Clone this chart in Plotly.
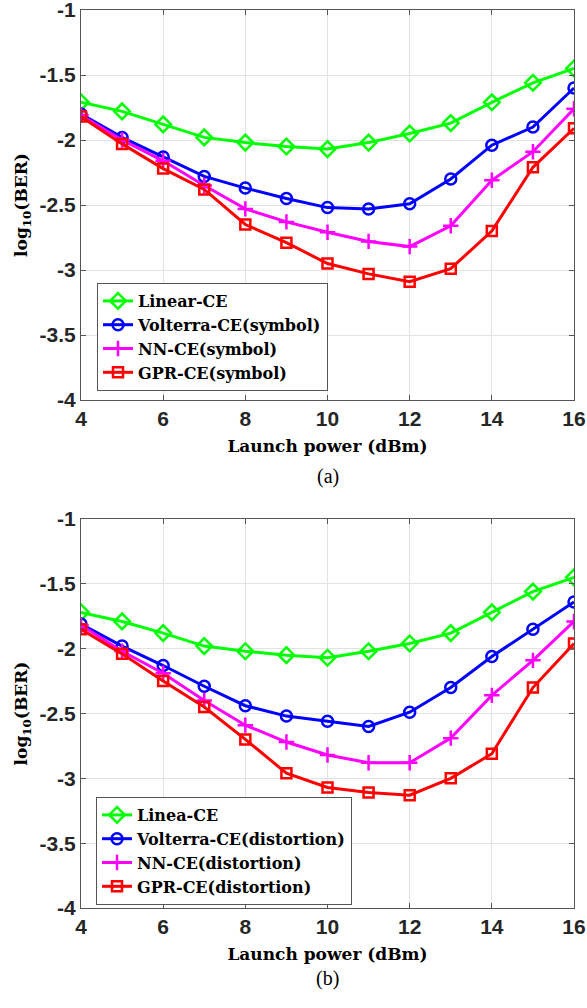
import plotly.graph_objects as go
from plotly.subplots import make_subplots

power = [4, 5, 6, 7, 8, 9, 10, 11, 12, 13, 14, 15, 16]

# (a) symbol
a_linear = [-1.71, -1.78, -1.88, -1.98, -2.02, -2.05, -2.07, -2.02, -1.95, -1.87, -1.71, -1.56, -1.45]
a_volterra = [-1.80, -1.98, -2.13, -2.28, -2.37, -2.45, -2.52, -2.53, -2.49, -2.30, -2.04, -1.90, -1.60]
a_nn = [-1.81, -2.00, -2.16, -2.35, -2.53, -2.63, -2.71, -2.78, -2.82, -2.66, -2.31, -2.09, -1.76]
a_gpr = [-1.82, -2.03, -2.22, -2.38, -2.65, -2.79, -2.95, -3.03, -3.09, -2.99, -2.70, -2.21, -1.91]

# (b) distortion
b_linear = [-1.72, -1.79, -1.88, -1.98, -2.02, -2.05, -2.07, -2.02, -1.96, -1.88, -1.72, -1.56, -1.45]
b_volterra = [-1.81, -1.98, -2.13, -2.29, -2.44, -2.52, -2.56, -2.60, -2.49, -2.30, -2.06, -1.85, -1.64]
b_nn = [-1.82, -2.02, -2.19, -2.40, -2.59, -2.72, -2.82, -2.88, -2.88, -2.69, -2.36, -2.09, -1.79]
b_gpr = [-1.85, -2.04, -2.25, -2.45, -2.70, -2.96, -3.07, -3.11, -3.13, -3.00, -2.81, -2.30, -1.96]

names_a = ["Linear-CE", "Volterra-CE(symbol)", "NN-CE(symbol)", "GPR-CE(symbol)"]
names_b = ["Linea-CE", "Volterra-CE(distortion)", "NN-CE(distortion)", "GPR-CE(distortion)"]
colors = ["#00FF00", "#0000FF", "#FF00FF", "#FF0000"]
symbols = ["diamond-open", "circle-open", "cross-thin-open", "square-open"]
sizes = [12, 11, 11, 10]

W, H = 587, 1008
L, R, T, B = 81, 13, 10, 100
ph = H - T - B

def py(px):
    return (H - B - px) / ph

def pxx(px):
    return (px - L) / (W - L - R)

fig = make_subplots(rows=2, cols=1)

serif = "DejaVu Serif"
for row, series, names, leg in [(1, [a_linear, a_volterra, a_nn, a_gpr], names_a, "legend"),
                                (2, [b_linear, b_volterra, b_nn, b_gpr], names_b, "legend2")]:
    for i, ys in enumerate(series):
        fig.add_trace(go.Scatter(
            x=power, y=ys, mode="lines+markers", name=names[i], legend=leg,
            line=dict(color=colors[i], width=3),
            marker=dict(symbol=symbols[i], size=sizes[i], color=colors[i],
                        line=dict(color=colors[i], width=2.5)),
        ), row=row, col=1)

axis_common = dict(
    showline=True, linecolor="#555555", linewidth=1, mirror="ticks",
    ticks="inside", ticklen=5, tickcolor="#555555",
    showgrid=True, gridcolor="#E3E3E3", gridwidth=1, zeroline=False,
    automargin=False, ticklabeloverflow="allow",
    tickfont=dict(family="Liberation Sans", size=21, color="#262626", weight="bold"),
)

for r, dom in [(1, [py(400), py(10)]), (2, [0.0, py(519)])]:
    fig.update_xaxes(range=[4, 16], tickvals=[4, 6, 8, 10, 12, 14, 16], row=r, col=1,
                     title=dict(text="Launch power (dBm)", standoff=10,
                                font=dict(family=serif, size=17, color="#000000", weight="bold")),
                     **axis_common)
    fig.update_yaxes(range=[-4, -1], tickvals=[-4, -3.5, -3, -2.5, -2, -1.5, -1],
                     ticktext=["-4", "-3.5", "-3", "-2.5", "-2", "-1.5", "-1"],
                     domain=dom, row=r, col=1,
                     title=dict(text="log<sub>10</sub>(BER)", standoff=7,
                                font=dict(family=serif, size=17, color="#000000", weight="bold")),
                     **axis_common)

legend_style = dict(
    xanchor="left", yanchor="top", bgcolor="white", bordercolor="#555555", borderwidth=1,
    font=dict(family=serif, size=16, color="#000000", weight="bold"),
    tracegroupgap=0, itemwidth=30,
)
fig.update_layout(
    width=W, height=H,
    margin=dict(l=L, r=R, t=T, b=B, autoexpand=False),
    paper_bgcolor="white", plot_bgcolor="white",
    legend=dict(x=pxx(97), y=py(283), **legend_style),
    legend2=dict(x=pxx(96), y=py(797), **legend_style),
    annotations=[
        dict(text="(a)", x=0.5, y=py(476), xref="paper", yref="paper", showarrow=False,
             font=dict(family="Liberation Serif", size=20, color="#000000")),
        dict(text="(b)", x=0.5, y=py(992), xref="paper", yref="paper", showarrow=False,
             font=dict(family="Liberation Serif", size=20, color="#000000")),
    ],
)

fig.write_html("out.html", config={"displayModeBar": False},
               post_script="document.body.style.margin='0';")
